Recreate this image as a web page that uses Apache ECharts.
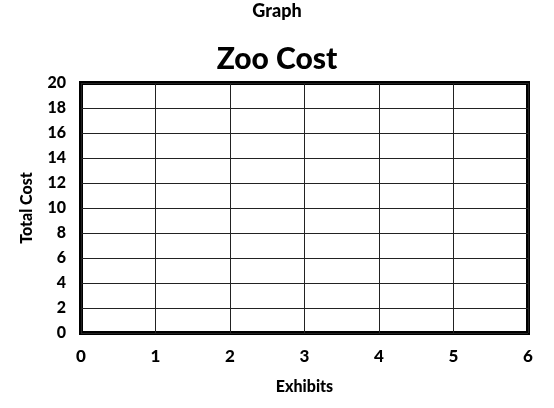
<!DOCTYPE html>
<html><head><meta charset="utf-8">
<script src="https://cdn.jsdelivr.net/npm/echarts@6/dist/echarts.min.js"></script>
<style>html,body{margin:0;padding:0;background:#fff}#c{width:554px;height:408px}</style>
</head><body><div id="c"></div>
<script>
const pageTitle = "Graph";
const chartTitle = "Zoo Cost";
const xName = "Exhibits";
const yName = "Total Cost";
const xTicks = [0, 1, 2, 3, 4, 5, 6];
const yTicks = [0, 2, 4, 6, 8, 10, 12, 14, 16, 18, 20];
const seriesValues = []; // empty graph: no data plotted

const FONT = "Lato";
const chart = echarts.init(document.getElementById('c'));
chart.setOption({
  animation: false,
  title: [
    {text: pageTitle, left: 'center', top: -3, textStyle: {fontFamily: FONT, fontWeight: 900, fontSize: 18, color: '#000'}},
    {text: chartTitle, left: 'center', top: 39, textStyle: {fontFamily: FONT, fontWeight: 900, fontSize: 30, color: '#000'}}
  ],
  grid: {left: 81, right: 26, top: 83, bottom: 75, show: true, borderColor: '#000', borderWidth: 4, backgroundColor: 'transparent'},
  xAxis: {
    type: 'value', min: xTicks[0], max: xTicks[xTicks.length - 1], interval: 1,
    name: xName, nameLocation: 'middle', nameGap: 46,
    nameTextStyle: {fontFamily: FONT, fontWeight: 900, fontSize: 16, color: '#000'},
    axisLine: {show: false}, axisTick: {show: false},
    axisLabel: {margin: 15, fontFamily: FONT, fontWeight: 900, fontSize: 17, color: '#000'},
    splitLine: {show: true, lineStyle: {color: '#222', width: 1}}
  },
  yAxis: {
    type: 'value', min: yTicks[0], max: yTicks[yTicks.length - 1], interval: 2,
    name: yName, nameLocation: 'middle', nameGap: 46,
    nameTextStyle: {fontFamily: FONT, fontWeight: 900, fontSize: 16, color: '#000'},
    axisLine: {show: false}, axisTick: {show: false},
    axisLabel: {margin: 15, fontFamily: FONT, fontWeight: 900, fontSize: 16, color: '#000'},
    splitLine: {show: true, lineStyle: {color: '#222', width: 1}}
  },
  series: [{type: 'line', data: seriesValues}]
});
</script></body></html>
